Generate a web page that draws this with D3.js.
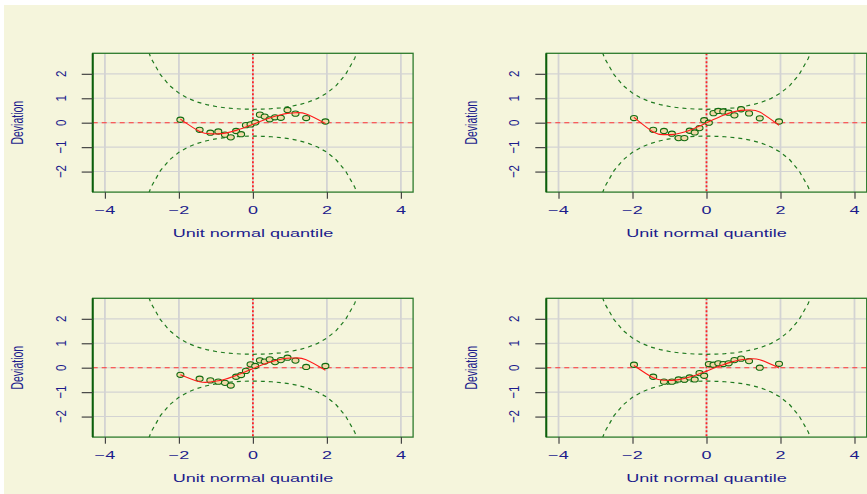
<!DOCTYPE html>
<html>
<head>
<meta charset="utf-8">
<script src="https://cdn.jsdelivr.net/npm/d3@7"></script>
<style>
body { margin: 0; background: #ffffff; }
text { font-family: "Liberation Sans", Arial, sans-serif; fill: #1c1c8c; }
</style>
</head>
<body>
<svg width="867" height="494"></svg>
<script>
// unit normal quantiles of the 20 ordered residuals (same in every panel)
var quantiles = [-1.96, -1.44, -1.15, -0.935, -0.755, -0.598, -0.454, -0.319, -0.189, -0.063,
                 0.063, 0.189, 0.319, 0.454, 0.598, 0.755, 0.935, 1.15, 1.44, 1.96];

// deviations
var devTopLeft     = [0.12, -0.29, -0.41, -0.36, -0.49, -0.60, -0.34, -0.47, -0.10, -0.07,
                      0.01, 0.33, 0.25, 0.14, 0.22, 0.20, 0.52, 0.37, 0.19, 0.05];
var devTopRight    = [0.19, -0.29, -0.34, -0.45, -0.63, -0.63, -0.33, -0.40, -0.22, 0.10,
                      0.00, 0.39, 0.48, 0.46, 0.41, 0.30, 0.55, 0.38, 0.18, 0.05];
var devBottomLeft  = [-0.29, -0.45, -0.52, -0.57, -0.62, -0.73, -0.37, -0.30, -0.13, 0.14,
                      0.07, 0.30, 0.25, 0.34, 0.23, 0.31, 0.41, 0.29, 0.03, 0.07];
var devBottomRight = [0.12, -0.37, -0.57, -0.57, -0.48, -0.49, -0.40, -0.48, -0.22, -0.33,
                      0.15, 0.12, 0.18, 0.15, 0.18, 0.31, 0.37, 0.27, 0.00, 0.16];

var xTicks = [-4, -2, 0, 2, 4];
var yTicks = [-2, -1, 0, 1, 2];
var nObs = 20;
var level = 0.95;
var xLabel = "Unit normal quantile";
var yLabel = "Deviation";

var svg = d3.select("svg");

// beige page
svg.append("rect")
   .attr("x", 4).attr("y", 5)
   .attr("width", 863).attr("height", 489)
   .attr("fill", "#f5f5dc");

var panels = [
    {left: 92.7,  top: 53.3,  dev: devTopLeft},
    {left: 546.3, top: 53.3,  dev: devTopRight},
    {left: 92.7,  top: 298.3, dev: devBottomLeft},
    {left: 546.3, top: 298.3, dev: devBottomRight}
];
var pw = 320.4, ph = 138.8;

// normal helpers for the confidence bands (as in the worm plot)
function dnorm(z) { return Math.exp(-z * z / 2) / Math.sqrt(2 * Math.PI); }
function pnorm(z) {
    var t = 1 / (1 + 0.2316419 * Math.abs(z));
    var poly = t * (0.319381530 + t * (-0.356563782 + t * (1.781477937 + t * (-1.821255978 + t * 1.330274429))));
    var p = 1 - dnorm(z) * poly;
    return z >= 0 ? p : 1 - p;
}
var zq = 1.959964; // qnorm((1+level)/2)

var zBand = d3.range(-4, 4.001, 0.25);
var bandHigh = zBand.map(function(z) {
    var p = pnorm(z);
    return { z: z, v: zq * Math.sqrt(p * (1 - p) / nObs) / dnorm(z) };
});
var bandLow = bandHigh.map(function(d) { return { z: d.z, v: -d.v }; });

// least squares cubic through the worm
function cubicFit(xs, ys) {
    var A = [], b = [];
    for (var i = 0; i < 4; i++) {
        A.push([0, 0, 0, 0]); b.push(0);
        for (var k = 0; k < xs.length; k++) {
            b[i] += ys[k] * Math.pow(xs[k], i);
            for (var j = 0; j < 4; j++) A[i][j] += Math.pow(xs[k], i + j);
        }
    }
    for (var c = 0; c < 4; c++) {
        for (var r = c + 1; r < 4; r++) {
            var f = A[r][c] / A[c][c];
            for (var j2 = c; j2 < 4; j2++) A[r][j2] -= f * A[c][j2];
            b[r] -= f * b[c];
        }
    }
    var coef = [0, 0, 0, 0];
    for (var r2 = 3; r2 >= 0; r2--) {
        var s = b[r2];
        for (var j3 = r2 + 1; j3 < 4; j3++) s -= A[r2][j3] * coef[j3];
        coef[r2] = s / A[r2][r2];
    }
    return coef;
}

function stretchText(g, x, y, txt, size, sx, rot) {
    g.append("text")
     .attr("transform", "translate(" + x + "," + y + ") scale(" + sx + ",1)" + (rot ? " rotate(-90)" : ""))
     .attr("text-anchor", "middle")
     .style("font-size", size + "px")
     .text(txt);
}

panels.forEach(function(p, idx) {
    var x = d3.scaleLinear().domain([-4.33, 4.33]).range([p.left, p.left + pw]);
    var y = d3.scaleLinear().domain([-2.84, 2.84]).range([p.top + ph, p.top]);

    var g = svg.append("g");

    svg.append("clipPath").attr("id", "clip" + idx)
       .append("rect")
       .attr("x", p.left).attr("y", p.top)
       .attr("width", pw).attr("height", ph);

    // grid
    g.selectAll(".vg").data(xTicks).enter().append("line")
     .attr("x1", function(d) { return x(d); }).attr("x2", function(d) { return x(d); })
     .attr("y1", p.top).attr("y2", p.top + ph)
     .attr("stroke", "#d3d3d3").attr("stroke-width", 1.8);
    g.selectAll(".hg").data(yTicks).enter().append("line")
     .attr("x1", p.left).attr("x2", p.left + pw)
     .attr("y1", function(d) { return y(d); }).attr("y2", function(d) { return y(d); })
     .attr("stroke", "#d3d3d3").attr("stroke-width", 1.1);

    // zero lines
    g.append("line")
     .attr("x1", p.left).attr("x2", p.left + pw)
     .attr("y1", y(0)).attr("y2", y(0))
     .attr("stroke", "#ff3333").attr("stroke-width", 1.1)
     .attr("stroke-dasharray", "5,4");
    g.append("line")
     .attr("x1", x(0)).attr("x2", x(0))
     .attr("y1", p.top).attr("y2", p.top + ph)
     .attr("stroke", "#ff2222").attr("stroke-width", 1.8)
     .attr("stroke-dasharray", "2,2");

    // confidence bands
    var bandLine = d3.line()
        .x(function(d) { return x(d.z); })
        .y(function(d) { return y(d.v); });
    [bandHigh, bandLow].forEach(function(b) {
        g.append("path")
         .attr("d", bandLine(b))
         .attr("clip-path", "url(#clip" + idx + ")")
         .attr("fill", "none")
         .attr("stroke", "#1f7a1f").attr("stroke-width", 1.2)
         .attr("stroke-dasharray", "4,4");
    });

    // points
    var pts = quantiles.map(function(q, i) { return { z: q, v: p.dev[i] }; });
    g.selectAll(".pt").data(pts).enter().append("ellipse")
     .attr("cx", function(d) { return x(d.z); })
     .attr("cy", function(d) { return y(d.v); })
     .attr("rx", 3.5).attr("ry", 2.6)
     .attr("fill", "#f2d9a8")
     .attr("stroke", "#106b10").attr("stroke-width", 1.1);

    // fitted cubic
    var coef = cubicFit(quantiles, p.dev);
    var fitted = quantiles.map(function(q) {
        return { z: q, v: coef[0] + coef[1] * q + coef[2] * q * q + coef[3] * q * q * q };
    });
    g.append("path")
     .attr("d", d3.line().curve(d3.curveNatural)
        .x(function(d) { return x(d.z); })
        .y(function(d) { return y(d.v); })(fitted))
     .attr("fill", "none")
     .attr("stroke", "#ff1a1a").attr("stroke-width", 1.1);

    // frame
    g.append("rect")
     .attr("x", p.left).attr("y", p.top)
     .attr("width", pw).attr("height", ph)
     .attr("fill", "none")
     .attr("stroke", "#2c7a2c").attr("stroke-width", 1.3);
    g.append("line")
     .attr("x1", p.left).attr("x2", p.left)
     .attr("y1", p.top).attr("y2", p.top + ph)
     .attr("stroke", "#0b5e0b").attr("stroke-width", 2);

    // axes (ticks only, labels drawn stretched below)
    var xAxis = d3.axisBottom(x).tickValues(xTicks).tickSize(6.6).tickFormat("");
    var yAxis = d3.axisLeft(y).tickValues(yTicks).tickSize(11).tickFormat("");
    var xa = g.append("g").attr("transform", "translate(0," + (p.top + ph) + ")").call(xAxis);
    var ya = g.append("g").attr("transform", "translate(" + p.left + ",0)").call(yAxis);
    [xa, ya].forEach(function(a) {
        a.select(".domain").remove();
        a.selectAll(".tick line").attr("stroke", "#444").attr("stroke-width", 1.2);
    });

    xTicks.forEach(function(t) {
        stretchText(g, x(t), p.top + ph + 21.6, d3.format("")(t).replace("-", "\u2212"), 10, 1.8, false);
    });
    yTicks.forEach(function(t) {
        stretchText(g, p.left - 27, y(t), d3.format("")(t).replace("-", "\u2212"), 11.5, 1.35, true);
    });
    stretchText(g, p.left + pw / 2, p.top + ph + 45, xLabel, 10.5, 1.72, false);
    stretchText(g, p.left - 69.5, p.top + ph / 2, yLabel, 10.5, 1.5, true);
});
</script>
</body>
</html>
